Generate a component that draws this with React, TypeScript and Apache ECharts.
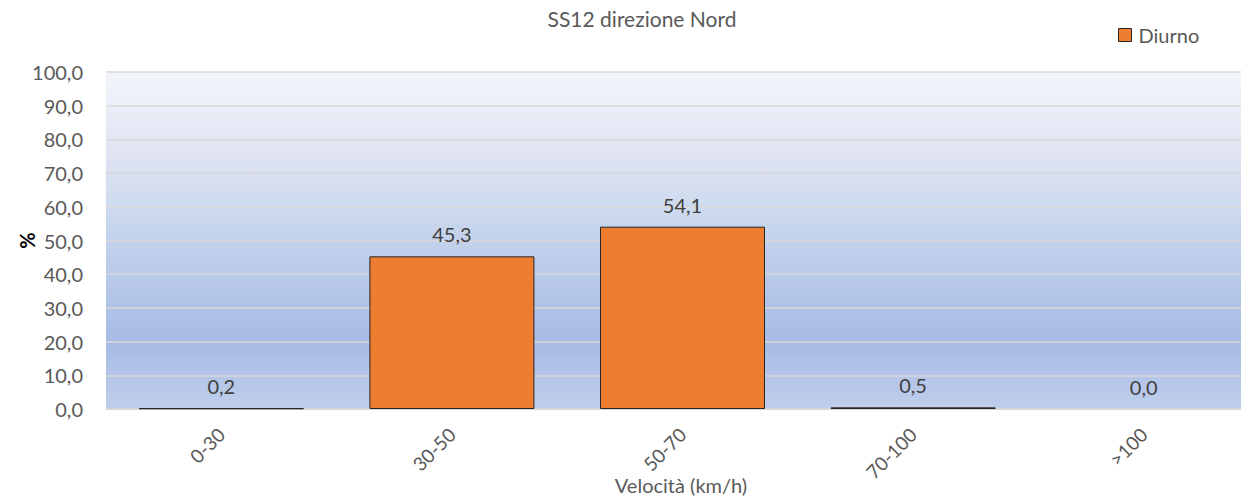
import React, { useEffect, useRef } from "react";
import * as echarts from "echarts";

const categories = ["0-30", "30-50", "50-70", "70-100", ">100"];
const diurno = [0.2, 45.3, 54.1, 0.5, 0.0];
const yTicks = { min: 0, max: 100, interval: 10 };

const FONT = "Lato, 'Liberation Sans', sans-serif";

export default function App() {
  const ref = useRef<HTMLDivElement>(null);
  useEffect(() => {
    if (!ref.current) return;
    const chart = echarts.init(ref.current, null, { renderer: "svg" });
    chart.setOption({
      animation: false,
      backgroundColor: "#ffffff",
      textStyle: { fontFamily: FONT },
      title: {
        text: "SS12 direzione Nord",
        left: 637,
        top: 3,
        textAlign: "center",
        textStyle: { fontFamily: FONT, fontSize: 21, fontWeight: "normal", color: "#595959" },
      },
      legend: {
        data: ["Diurno"],
        left: 1113,
        top: 20,
        itemWidth: 13,
        itemHeight: 13,
        itemGap: 6,
        icon: "rect",
        textStyle: { fontFamily: FONT, fontSize: 20, color: "#595959", padding: [0, 0, 0, 2] },
        itemStyle: { color: "#ED7D31", borderColor: "#262626", borderWidth: 1 },
      },
      graphic: [
        {
          type: "text",
          x: 681,
          y: 485,
          style: {
            text: "Velocità (km/h)",
            font: `20px ${FONT}`,
            fill: "#595959",
            textAlign: "center",
            textVerticalAlign: "middle",
          },
        },
      ],
      grid: {
        left: 106,
        right: 0,
        top: 72,
        bottom: 90,
        outerBoundsMode: "none",
        containLabel: false,
        show: true,
        borderWidth: 0,
        backgroundColor: new echarts.graphic.LinearGradient(0, 0, 0, 1, [
          { offset: 0, color: "#f3f5fb" },
          { offset: 0.25, color: "#dfe3f2" },
          { offset: 0.4, color: "#cddaee" },
          { offset: 0.6, color: "#b9c9e9" },
          { offset: 0.8, color: "#a7bce4" },
          { offset: 1, color: "#bfceeb" },
        ]),
      },
      xAxis: {
        type: "category",
        data: categories,
        axisTick: { show: false },
        axisLine: { show: true, lineStyle: { color: "#d9d9d9", width: 1 } },
        axisLabel: {
          rotate: 45,
          margin: 22,
          fontFamily: FONT,
          fontSize: 19,
          color: "#595959",
        },
      },
      yAxis: {
        type: "value",
        min: yTicks.min,
        max: yTicks.max,
        interval: yTicks.interval,
        name: "%",
        nameLocation: "middle",
        nameRotate: 90,
        nameGap: 69,
        nameMoveOverlap: false,
        nameTextStyle: { fontFamily: FONT, fontSize: 20, fontWeight: "bold", color: "#000000" },
        axisLine: { show: false },
        axisTick: { show: false },
        splitLine: { lineStyle: { color: "#d9d9d9", width: 1.5 } },
        axisLabel: {
          margin: 23,
          fontFamily: FONT,
          fontSize: 20,
          color: "#595959",
          formatter: (v: number) => v.toFixed(1).replace(".", ","),
        },
      },
      series: [
        {
          name: "Diurno",
          type: "bar",
          data: diurno.map((v) => ({
            value: v,
            itemStyle: v === 0 ? { borderWidth: 0 } : undefined,
          })),
          barWidth: 165,
          itemStyle: { color: "#ED7D31", borderColor: "#262626", borderWidth: 1 },
          label: {
            show: true,
            position: "top",
            distance: 12,
            fontFamily: FONT,
            fontSize: 20,
            color: "#404040",
            formatter: (p: any) => Number(p.value).toFixed(1).replace(".", ","),
          },
        },
      ],
    });
    return () => chart.dispose();
  }, []);
  return (
    <div
      style={{
        position: "fixed",
        left: 0,
        top: 0,
        width: 1241,
        height: 499,
        overflow: "hidden",
        background: "#ffffff",
      }}
    >
      <div ref={ref} style={{ width: 1259, height: 499 }} />
    </div>
  );
}
